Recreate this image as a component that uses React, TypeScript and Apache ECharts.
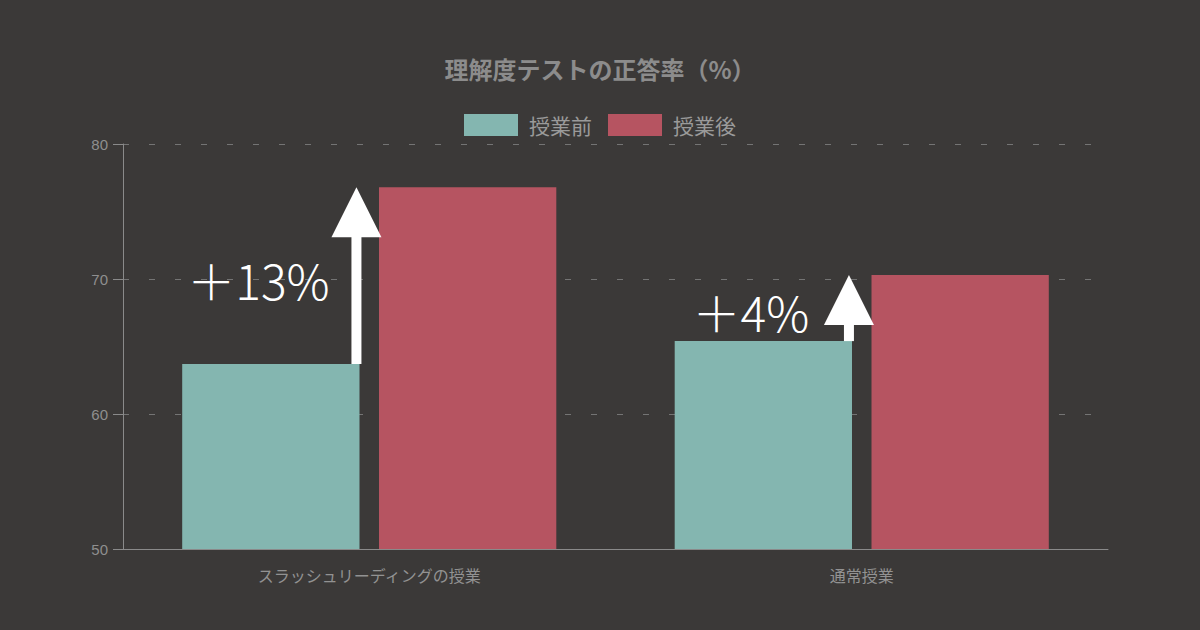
import React, { useEffect, useRef } from "react";
import * as echarts from "echarts";

const categories = ["スラッシュリーディングの授業", "通常授業"];
const beforeValues = [63.7, 65.4];
const afterValues = [76.8, 70.3];
const gainLabels = ["＋13%", "＋4%"];
const seriesNames = ["授業前", "授業後"];
const titleText = "理解度テストの正答率（%）";

export default function App() {
  const ref = useRef<HTMLDivElement>(null);
  useEffect(() => {
    const chart = echarts.init(ref.current!, null, { renderer: "svg" });
    const arrowData = categories.map((_, i) => [i, beforeValues[i], afterValues[i]]);
    chart.setOption({
      animation: false,
      backgroundColor: "#3b3938",
      textStyle: { fontFamily: '"Noto Sans CJK JP", "Noto Sans", sans-serif' },
      title: {
        text: titleText,
        left: "center",
        top: 51,
        textStyle: { color: "#8c8c8c", fontSize: 24, fontWeight: "bold" },
      },
      legend: {
        top: 109,
        left: "center",
        icon: "rect",
        itemWidth: 54,
        itemHeight: 22,
        itemGap: 16,
        textStyle: { color: "#9a9a9a", fontSize: 21, padding: [0, 0, 0, 6] },
        data: seriesNames,
      },
      grid: { left: 123, right: 92, top: 144, bottom: 81 },
      xAxis: {
        type: "category",
        data: categories,
        axisLine: { lineStyle: { color: "#8a8a8a" } },
        axisTick: { show: false },
        axisLabel: { color: "#929292", fontSize: 16, margin: 18 },
      },
      yAxis: {
        type: "value",
        min: 50,
        max: 80,
        interval: 10,
        axisLine: { show: true, lineStyle: { color: "#8a8a8a" } },
        axisTick: { show: true, length: 10, lineStyle: { color: "#8a8a8a" } },
        axisLabel: { color: "#8f8f8f", fontSize: 15, margin: 15, fontFamily: '"Liberation Sans", Arial, sans-serif' },
        splitLine: { lineStyle: { color: "#747474", type: [6, 20] } },
      },
      series: [
        {
          name: seriesNames[0],
          type: "bar",
          data: beforeValues,
          barWidth: "36%",
          barGap: "11%",
          itemStyle: { color: "#84b6b0" },
        },
        {
          name: seriesNames[1],
          type: "bar",
          data: afterValues,
          barWidth: "36%",
          barGap: "11%",
          itemStyle: { color: "#b65461" },
        },
        {
          type: "custom",
          data: arrowData,
          encode: { x: 0, y: [1, 2] },
          z: 10,
          silent: true,
          renderItem: (params: any, api: any) => {
            const idx = api.value(0);
            const c0 = api.coord([idx, api.value(1)]);
            const c1 = api.coord([idx, api.value(2)]);
            const bw = api.size([1, 0])[0];
            const x = c0[0] - bw * 0.026;
            const headH = 50;
            const headW = 50;
            const shaftW = 10;
            const baseY = c1[1] + headH;
            return {
              type: "group",
              children: [
                {
                  type: "rect",
                  shape: { x: x - shaftW / 2, y: baseY - 1, width: shaftW, height: Math.max(0, c0[1] - baseY + 1) },
                  style: { fill: "#ffffff" },
                },
                {
                  type: "polygon",
                  shape: { points: [[x - headW / 2, baseY], [x + headW / 2, baseY], [x, c1[1]]] },
                  style: { fill: "#ffffff" },
                },
                {
                  type: "text",
                  style: {
                    text: gainLabels[idx],
                    x: c0[0] - bw * 0.225,
                    y: (c0[1] + c1[1]) / 2 + 3,
                    align: "center",
                    verticalAlign: "middle",
                    fill: "#ffffff",
                    fontSize: 48,
                    fontWeight: 300,
                    fontFamily: '"Noto Sans CJK JP", sans-serif',
                  },
                },
              ],
            };
          },
        },
      ],
    });
    return () => chart.dispose();
  }, []);
  return <div ref={ref} style={{ position: "fixed", left: 0, top: 0, width: 1200, height: 630 }} />;
}
